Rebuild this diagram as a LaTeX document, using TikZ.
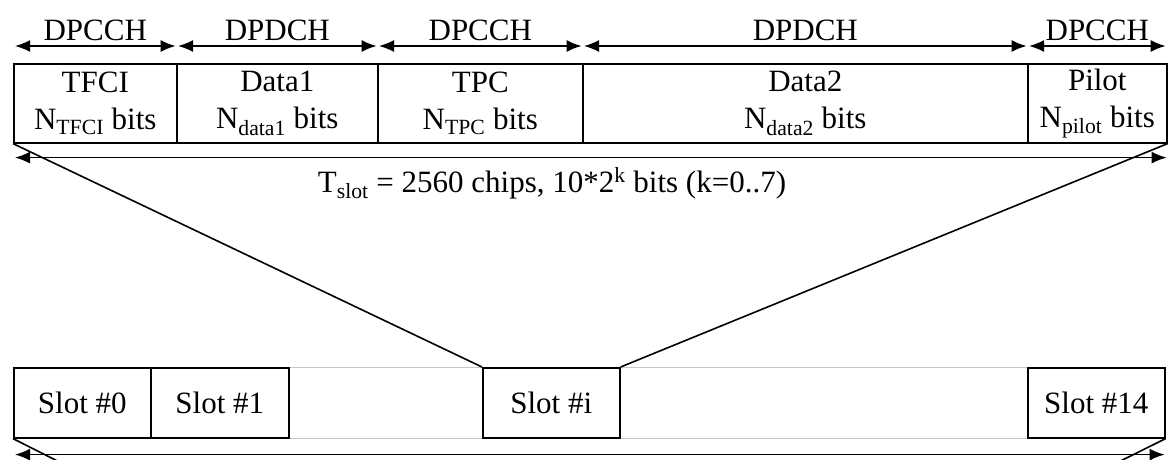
\documentclass[tikz,border=0pt]{standalone}
\usepackage{fontspec}
\setmainfont{Liberation Serif}
\usetikzlibrary{arrows.meta}
\begin{document}
\begin{tikzpicture}[x=1pt,y=-1pt,
  txt/.style={font=\fontsize{31}{37}\selectfont},
  field/.style={txt, draw, line width=1.6pt, inner sep=0pt, anchor=north west,
                minimum height=79pt, align=center},
  slotbox/.style={txt, draw, line width=1.6pt, inner sep=0pt, anchor=north west,
                  minimum height=70pt, minimum width=137pt},
  span/.style={arrows={Latex[length=15pt,width=12pt]-Latex[length=15pt,width=12pt]}, line width=1.6pt},
  lbl/.style={txt, inner sep=0pt, anchor=base},
  zoomline/.style={line width=1.6pt},
  gap/.style={line width=1pt, gray!45}]
\useasboundingbox (0,0) rectangle (1176,460);
\clip (0,0) rectangle (1176,460);

% slot fields
\node[field, minimum width=163pt] (tfci)  at (13,63)   {TFCI\\N\textsubscript{TFCI} bits};
\node[field, minimum width=201pt] (data1) at (176,63)  {Data1\\N\textsubscript{data1} bits};
\node[field, minimum width=205pt] (tpc)   at (377,63)  {TPC\\N\textsubscript{TPC} bits};
\node[field, minimum width=445pt] (data2) at (582,63)  {Data2\\N\textsubscript{data2} bits};
\node[field, minimum width=139pt] (pilot) at (1027,63) {Pilot\\N\textsubscript{pilot} bits};

% channel labels and spans
\foreach \f/\t in {tfci/DPCCH, data1/DPDCH, tpc/DPCCH, data2/DPDCH, pilot/DPCCH}{
  \node[lbl] (lbl-\f) at ([yshift=22pt]\f.north) {\t};
  \draw[span] ([shift={(2pt,17pt)}]\f.north west) -- ([shift={(-2pt,17pt)}]\f.north east);
}

% slot duration
\draw[span] ([shift={(2pt,-14pt)}]tfci.south west) -- ([shift={(-1pt,-14pt)}]pilot.south east);
\node[lbl] (tslot) at (552,192) {T\textsubscript{slot} = 2560 chips, 10*2\textsuperscript{k} bits (k=0..7)};

% frame of slots
\node[slotbox] (slot0)  at (13,367)   {Slot \#0};
\node[slotbox, minimum width=138pt] (slot1) at (150,367) {Slot \#1};
\node[slotbox] (sloti)  at (482,367)  {Slot \#i};
\node[slotbox] (slot14) at (1027,367) {Slot \#14};

\draw[gap] (slot1.north east) -- (sloti.north west);
\draw[gap] (sloti.north east) -- (slot14.north west);
\draw[gap] (slot1.south east) -- (sloti.south west);
\draw[gap] (sloti.south east) -- (slot14.south west);

% expansion lines
\draw[zoomline] (tfci.south west) -- (sloti.north west);
\draw[zoomline] (pilot.south east) -- (sloti.north east);

% frame duration
\draw[span] ([shift={(2pt,-16pt)}]slot0.south west) -- ([shift={(-1pt,-16pt)}]slot14.south east);
\coordinate (low-l) at (113,489);
\coordinate (low-r) at (1064,489);
\draw[zoomline] (slot0.south west) -- (low-l);
\draw[zoomline] (slot14.south east) -- (low-r);
\end{tikzpicture}
\end{document}
